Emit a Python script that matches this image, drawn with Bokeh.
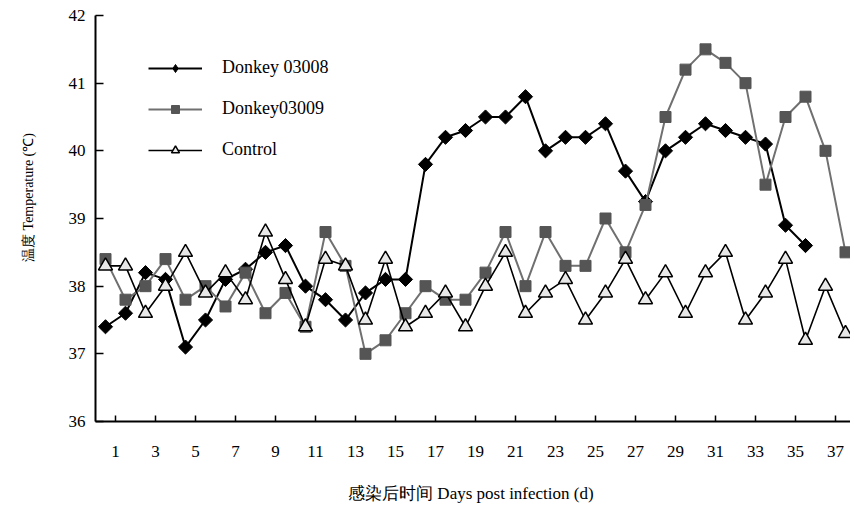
from bokeh.plotting import figure
from bokeh.models import Range1d, FixedTicker, Legend
from bokeh.embed import file_html
from bokeh.resources import INLINE

days = list(range(1, 39))
tick_positions = [k + 0.5 for k in range(1, 38, 2)]
tick_labels = [str(k) for k in range(1, 38, 2)]

donkey_03008 = [37.4, 37.6, 38.2, 38.1, 37.1, 37.5, 38.1, 38.25, 38.5, 38.6,
                38.0, 37.8, 37.5, 37.9, 38.1, 38.1, 39.8, 40.2, 40.3, 40.5,
                40.5, 40.8, 40.0, 40.2, 40.2, 40.4, 39.7, 39.25, 40.0, 40.2,
                40.4, 40.3, 40.2, 40.1, 38.9, 38.6]
donkey_03009 = [38.4, 37.8, 38.0, 38.4, 37.8, 38.0, 37.7, 38.2, 37.6, 37.9,
                37.4, 38.8, 38.3, 37.0, 37.2, 37.6, 38.0, 37.8, 37.8, 38.2,
                38.8, 38.0, 38.8, 38.3, 38.3, 39.0, 38.5, 39.2, 40.5, 41.2,
                41.5, 41.3, 41.0, 39.5, 40.5, 40.8, 40.0, 38.5]
control = [38.3, 38.3, 37.6, 38.0, 38.5, 37.9, 38.2, 37.8, 38.8, 38.1,
           37.4, 38.4, 38.3, 37.5, 38.4, 37.4, 37.6, 37.9, 37.4, 38.0,
           38.5, 37.6, 37.9, 38.1, 37.5, 37.9, 38.4, 37.8, 38.2, 37.6,
           38.2, 38.5, 37.5, 37.9, 38.4, 37.2, 38.0, 37.3]

SERIF = "Liberation Serif"

p = figure(width=850, height=505, output_backend="svg", toolbar_location=None,
           x_range=Range1d(0.5, 38.25), y_range=Range1d(36, 42),
           min_border_left=95, min_border_right=0, min_border_top=15,
           min_border_bottom=84)
p.outline_line_color = None
p.xgrid.visible = False
p.ygrid.visible = False
p.background_fill_color = "white"

n1 = len(donkey_03008)
# Donkey 03008
l1 = p.line(days[:n1], donkey_03008, line_color="black", line_width=2)
m1 = p.scatter(days[:n1], donkey_03008, marker="square", angle=0.785398,
               size=10, fill_color="black", line_color="black")
# legend-only diamond
d1 = p.scatter([float("nan")], [float("nan")], marker="diamond", size=19,
               fill_color="black", line_color="black")
# Donkey03009
l2 = p.line(days, donkey_03009, line_color="#707070", line_width=2)
m2 = p.scatter(days, donkey_03009, marker="square", size=11,
               fill_color="#555555", line_color="#555555")
# Control
l3 = p.line(days, control, line_color="black", line_width=1.6)
m3 = p.scatter(days, control, marker="triangle", size=14,
               fill_color="#e8e8e8", line_color="black", line_width=1.5)

legend = Legend(items=[("Donkey 03008", [l1, d1]),
                       ("Donkey03009", [l2, m2]),
                       ("Control", [l3, m3])],
                location=(53, 261))
legend.border_line_color = None
legend.background_fill_alpha = 0
legend.padding = 0
legend.margin = 0
legend.spacing = 20
legend.glyph_width = 54
legend.glyph_height = 20
legend.label_height = 20
legend.label_standoff = 20
legend.label_text_font = SERIF
legend.label_text_font_size = "18px"
legend.label_text_color = "black"
p.add_layout(legend)

# X axis
xa = p.xaxis[0]
xa.ticker = FixedTicker(ticks=tick_positions)
xa.major_label_overrides = {t: l for t, l in zip(tick_positions, tick_labels)}
xa.minor_tick_line_color = None
xa.major_tick_in = 6
xa.major_tick_out = 0
xa.axis_line_width = 2
xa.axis_line_color = "black"
xa.major_tick_line_color = "black"
xa.major_tick_line_width = 1.5
xa.major_label_text_font = SERIF
xa.major_label_text_font_size = "17px"
xa.major_label_text_color = "black"
xa.major_label_standoff = 24
xa.axis_label = "感染后时间  Days post infection (d)"
xa.axis_label_text_font = SERIF
xa.axis_label_text_font_size = "17px"
xa.axis_label_text_font_style = "normal"
xa.axis_label_text_color = "black"
xa.axis_label_standoff = 24

# Y axis
ya = p.yaxis[0]
ya.ticker = FixedTicker(ticks=[36, 37, 38, 39, 40, 41, 42])
ya.minor_tick_line_color = None
ya.major_tick_in = 8
ya.major_tick_out = 0
ya.axis_line_width = 2
ya.axis_line_color = "black"
ya.major_tick_line_color = "black"
ya.major_tick_line_width = 1.5
ya.major_label_text_font = SERIF
ya.major_label_text_font_size = "17px"
ya.major_label_text_color = "black"
ya.major_label_standoff = 10
ya.axis_label = "\u00a0" * 13 + "温度  Temperature (℃)"
ya.axis_label_text_font = SERIF
ya.axis_label_text_font_size = "14px"
ya.axis_label_text_font_style = "normal"
ya.axis_label_text_color = "black"
ya.axis_label_standoff = 30

open("out.html", "w").write(file_html(p, INLINE))
